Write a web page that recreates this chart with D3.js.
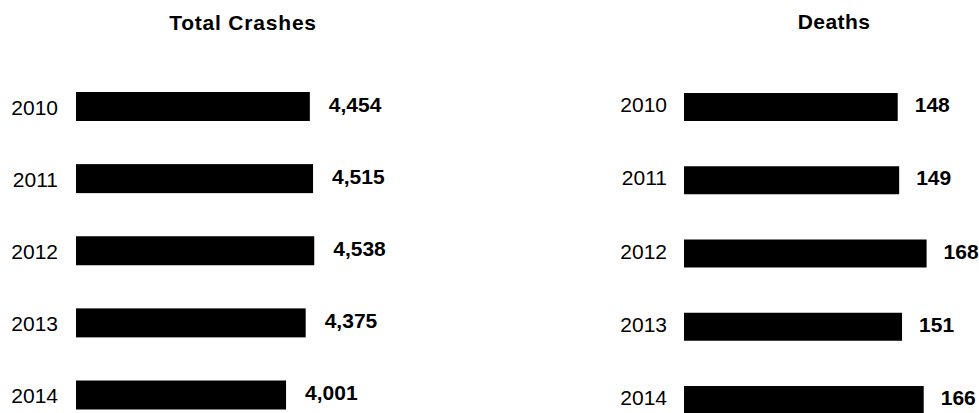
<!DOCTYPE html>
<html>
<head>
<meta charset="utf-8">
<script src="https://cdn.jsdelivr.net/npm/d3@7"></script>
<style>
  html, body { margin: 0; padding: 0; background: #fff; }
  svg { display: block; font-family: Arial, "Liberation Sans", sans-serif; }
</style>
</head>
<body>
<svg id="chart" width="979" height="413"></svg>
<script>
// Crash statistics by year
const years = ["2010", "2011", "2012", "2013", "2014"];
const totalCrashes = [4454, 4515, 4538, 4375, 4001];
const deaths = [148, 149, 168, 151, 166];
const panelTitles = ["Total Crashes", "Deaths"];

const svg = d3.select("#chart");
const fmt = d3.format(",");

// One horizontal bar panel: year labels on the left, value labels after each bar
function drawPanel(opts) {
  const g = svg.append("g");
  const x = d3.scaleLinear().domain(opts.xDomain).range(opts.xRange);
  const y = d3.scalePoint().domain(years).range(opts.yRange);
  const barH = opts.barH;

  g.append("text")
    .attr("x", opts.titleX)
    .attr("y", opts.titleY)
    .attr("text-anchor", "middle")
    .attr("font-size", 21)
    .attr("font-weight", "bold")
    .attr("letter-spacing", opts.titleSpacing)
    .attr("fill", "#000")
    .text(opts.title);

  const rows = g.selectAll("g.row")
    .data(years.map((yr, i) => ({ year: yr, value: opts.values[i] })))
    .join("g")
    .attr("class", "row");

  rows.append("rect")
    .attr("x", x(0))
    .attr("y", d => y(d.year) - barH / 2)
    .attr("width", d => x(d.value) - x(0))
    .attr("height", barH)
    .attr("fill", "#000");

  rows.append("text")
    .attr("x", x(0) - opts.yearGap)
    .attr("y", d => y(d.year) + opts.yearShift)
    .attr("text-anchor", "end")
    .attr("font-size", 21)
    .attr("fill", "#000")
    .text(d => d.year);

  rows.append("text")
    .attr("x", d => x(d.value) + opts.valueGap)
    .attr("y", d => y(d.year) + opts.valueShift)
    .attr("text-anchor", "start")
    .attr("font-size", 21)
    .attr("font-weight", "bold")
    .attr("fill", "#000")
    .text(d => fmt(d.value));
}

drawPanel({
  title: panelTitles[0],
  values: totalCrashes,
  xDomain: [0, 5000],
  xRange: [76, 338.5],
  yRange: [106.5, 395],
  barH: 29,
  titleX: 243, titleY: 30, titleSpacing: 0.8,
  yearGap: 18, yearShift: 8,
  valueGap: 19, valueShift: 5
});

drawPanel({
  title: panelTitles[1],
  values: deaths,
  xDomain: [0, 200],
  xRange: [684, 972.8],
  yRange: [107, 400],
  barH: 28,
  titleX: 834, titleY: 29, titleSpacing: 0.4,
  yearGap: 17, yearShift: 5,
  valueGap: 17, valueShift: 5
});
</script>
</body>
</html>
